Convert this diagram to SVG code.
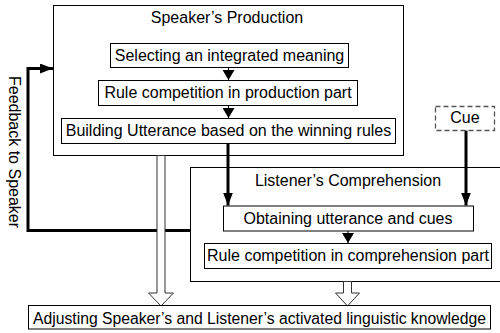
<svg xmlns="http://www.w3.org/2000/svg" width="500" height="333" viewBox="0 0 500 333">
<style>
  text { font-family: "Liberation Sans", Arial, sans-serif; font-size: 16px; fill: #000; }
  .c { text-anchor: middle; }
  .box { fill: #fff; stroke: #000; stroke-width: 1; }
  .frame { fill: none; stroke: #000; stroke-width: 1; }
  .thin { stroke: #000; stroke-width: 1; fill: none; }
  .thick { stroke: #000; stroke-width: 3; fill: none; }
  .hollow { fill: #fff; stroke: #333; stroke-width: 1; }
  .dash { fill: #fff; stroke: #555; stroke-width: 1.3; stroke-dasharray: 5 3; }
</style>
<defs>
  <marker id="ah" viewBox="0 0 10 12" refX="10" refY="6" markerWidth="10" markerHeight="12" markerUnits="userSpaceOnUse" orient="auto">
    <path d="M0,0 L10,6 L0,12 z" fill="#000"/>
  </marker>
  <marker id="ahT" viewBox="0 0 13 10" refX="13" refY="5" markerWidth="13" markerHeight="10" markerUnits="userSpaceOnUse" orient="auto">
    <path d="M0,0 L13,5 L0,10 z" fill="#000"/>
  </marker>
</defs>
<rect width="500" height="333" fill="#fff"/>

<g id="speaker-production">
  <rect class="frame" x="53.5" y="5.5" width="350" height="150"/>
  <text class="c" x="227" y="23">Speaker’s Production</text>
</g>

<g id="listener-comprehension">
  <rect class="frame" x="190.5" y="167.5" width="330" height="114"/>
  <text class="c" x="348" y="186">Listener’s Comprehension</text>
</g>

<g id="connectors">
  <line class="thin" x1="228.5" y1="68" x2="228.5" y2="80" marker-end="url(#ah)"/>
  <line class="thin" x1="228.5" y1="106" x2="228.5" y2="118" marker-end="url(#ah)"/>
  <line class="thin" x1="348" y1="231" x2="348" y2="243" marker-end="url(#ah)"/>
  <line class="thick" x1="228" y1="143" x2="228" y2="205.5" marker-end="url(#ahT)"/>
  <line class="thick" x1="466" y1="130" x2="466" y2="205.5" marker-end="url(#ahT)"/>
  <polyline class="thick" points="190,230.5 28,230.5 28,68.5 53,68.5" marker-end="url(#ahT)"/>
  <polygon class="hollow" points="157,155.5 165,155.5 165,293 173.5,293 161,306 148.5,293 157,293"/>
  <polygon class="hollow" points="343.5,281.5 351.5,281.5 351.5,293 359.5,293 347.5,306 335.5,293 343.5,293"/>
</g>

<g id="feedback-label">
  <text class="c" transform="translate(8.5,152) rotate(90)" x="0" y="0">Feedback to Speaker</text>
</g>

<g id="selecting">
  <rect class="box" x="110.5" y="43.5" width="238" height="24"/>
  <text class="c" x="229.5" y="61">Selecting an integrated meaning</text>
</g>

<g id="rule-production">
  <rect class="box" x="98.5" y="80.5" width="259" height="25"/>
  <text class="c" x="228" y="98">Rule competition in production part</text>
</g>

<g id="building">
  <rect class="box" x="61.5" y="118.5" width="334" height="25"/>
  <text class="c" x="228.5" y="136">Building Utterance based on the winning rules</text>
</g>

<g id="cue">
  <rect class="dash" x="435.5" y="106.5" width="59" height="24"/>
  <text class="c" x="465" y="123">Cue</text>
</g>

<g id="obtaining">
  <rect class="box" x="223.5" y="206" width="250" height="25"/>
  <text class="c" x="348" y="223.5">Obtaining utterance and cues</text>
</g>

<g id="rule-comprehension">
  <rect class="box" x="204.5" y="243.5" width="287" height="25"/>
  <text class="c" x="348" y="261">Rule competition in comprehension part</text>
</g>

<g id="adjusting">
  <rect class="box" x="28.5" y="305.5" width="462" height="23.5"/>
  <text class="c" x="259.5" y="324" textLength="453" lengthAdjust="spacingAndGlyphs">Adjusting Speaker’s and Listener’s activated linguistic knowledge</text>
</g>
</svg>
